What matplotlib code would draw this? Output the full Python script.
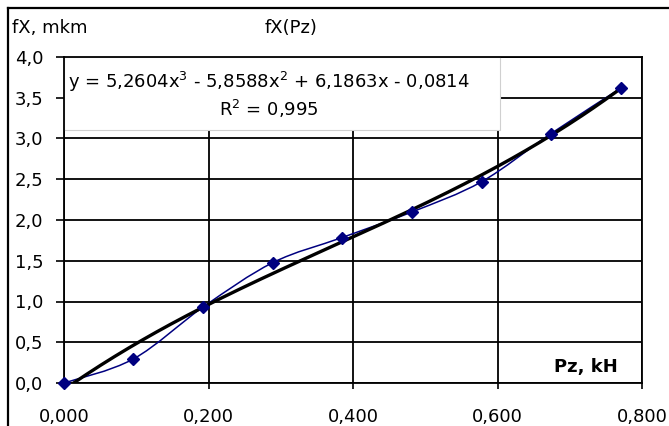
import matplotlib.pyplot as plt
from matplotlib.path import Path
from matplotlib.patches import PathPatch, Rectangle
from matplotlib.lines import Line2D
import numpy as np

plt.rcParams['font.family'] = ['DejaVu Sans']
plt.rcParams['mathtext.fontset'] = 'dejavusans'

# measured points fX(Pz)
pz = [0.0, 0.096, 0.193, 0.289, 0.385, 0.482, 0.578, 0.674, 0.771]
fx = [0.0, 0.295, 0.935, 1.477, 1.785, 2.10, 2.47, 3.06, 3.62]

# cubic trend shown on the chart
coef = [5.2604, -5.8588, 6.1863, -0.0814]
eq_text = r'y = 5,2604x$^3$ - 5,8588x$^2$ + 6,1863x - 0,0814'
r2_text = r'R$^2$ = 0,995'

x_ticks = [0.0, 0.2, 0.4, 0.6, 0.8]
x_labels = ['0,000', '0,200', '0,400', '0,600', '0,800']
y_ticks = [0.0, 0.5, 1.0, 1.5, 2.0, 2.5, 3.0, 3.5, 4.0]
y_labels = ['0,0', '0,5', '1,0', '1,5', '2,0', '2,5', '3,0', '3,5', '4,0']

navy = '#000080'
fs = 13

W, H = 669, 426
fig = plt.figure(figsize=(W / 100, H / 100), dpi=100)
ax = fig.add_axes([64 / W, 1 - 383 / H, (642 - 64) / W, (383 - 57) / H])
ax.set_xlim(0, 0.8)
ax.set_ylim(0, 4.0)

ax.set_xticks(x_ticks)
ax.set_xticklabels(x_labels, fontsize=fs)
ax.set_yticks(y_ticks)
ax.set_yticklabels(y_labels, fontsize=fs)
ax.tick_params(axis='y', length=6, width=1.2, pad=9, direction='out')
ax.tick_params(axis='x', length=4, width=1.2, pad=14, direction='out')
ax.grid(True, color='black', linewidth=1.3)
ax.set_axisbelow(True)
for s in ax.spines.values():
    s.set_color('black')
    s.set_linewidth(1.3)

# equation box covers the grid in the upper left
ax.add_patch(Rectangle((0, 3.11), 0.603, 0.89, facecolor='white',
                       edgecolor='#d0d0d0', linewidth=0.8, zorder=1.5,
                       clip_on=False))

# smoothed data line (Bezier through the points, like Excel)
P = np.column_stack([pz, fx])
verts = [tuple(P[0])]
codes = [Path.MOVETO]
n = len(P)
for i in range(n - 1):
    p0 = P[max(i - 1, 0)]
    p1 = P[i]
    p2 = P[i + 1]
    p3 = P[min(i + 2, n - 1)]
    c1 = p1 + (p2 - p0) / 6
    c2 = p2 - (p3 - p1) / 6
    verts += [tuple(c1), tuple(c2), tuple(p2)]
    codes += [Path.CURVE4] * 3
ax.add_patch(PathPatch(Path(verts, codes), facecolor='none',
                       edgecolor=navy, linewidth=1.1, zorder=3))
ax.plot(pz, fx, linestyle='none', marker='D', markersize=6,
        color=navy, zorder=4, clip_on=False)

# polynomial trend line
xt = np.linspace(0, pz[-1], 200)
ax.plot(xt, np.polyval(coef, xt), color='black', linewidth=2.4, zorder=3.5)

ax.text(0.2835, 3.69, eq_text, fontsize=fs, ha='center', va='center', zorder=5)
ax.text(0.2835, 3.36, r2_text, fontsize=fs, ha='center', va='center', zorder=5)

ax.text(0.767, 0.197, 'Pz, kH', fontsize=fs, fontweight='bold',
        ha='right', va='center', zorder=5)

fig.text(12 / W, 1 - 28 / H, 'fX, mkm', fontsize=fs, ha='left', va='center')
fig.text(291 / W, 1 - 28 / H, 'fX(Pz)', fontsize=fs, ha='center', va='center')

# chart frame (cut off at right and bottom)
fig.add_artist(Line2D([8 / W, 1], [1 - 8 / H, 1 - 8 / H], color='black',
                      linewidth=1.6, transform=fig.transFigure))
fig.add_artist(Line2D([8 / W, 8 / W], [0, 1 - 8 / H], color='black',
                      linewidth=1.6, transform=fig.transFigure))

fig.savefig('out.png', dpi=100)
